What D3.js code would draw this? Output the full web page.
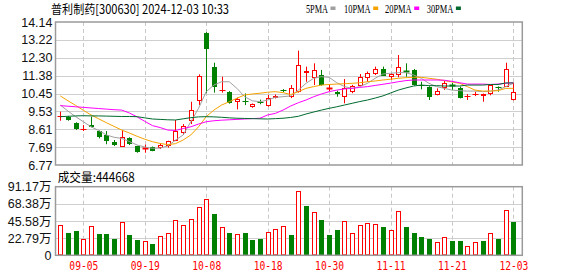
<!DOCTYPE html>
<html><head><meta charset="utf-8">
<script src="https://cdn.jsdelivr.net/npm/d3@7"></script>
<style>body{margin:0;background:#fff;}svg{display:block}</style>
</head><body><svg id="c" width="578" height="276"></svg>
<script>
const dates = ["2024-09-02","2024-09-03","2024-09-04","2024-09-05","2024-09-06","2024-09-09","2024-09-10","2024-09-11","2024-09-12","2024-09-13","2024-09-18","2024-09-19","2024-09-20","2024-09-23","2024-09-24","2024-09-25","2024-09-26","2024-09-27","2024-09-30","2024-10-08","2024-10-09","2024-10-10","2024-10-11","2024-10-14","2024-10-15","2024-10-16","2024-10-17","2024-10-18","2024-10-21","2024-10-22","2024-10-23","2024-10-24","2024-10-25","2024-10-28","2024-10-29","2024-10-30","2024-10-31","2024-11-01","2024-11-04","2024-11-05","2024-11-06","2024-11-07","2024-11-08","2024-11-11","2024-11-12","2024-11-13","2024-11-14","2024-11-15","2024-11-18","2024-11-19","2024-11-20","2024-11-21","2024-11-22","2024-11-25","2024-11-26","2024-11-27","2024-11-28","2024-11-29","2024-12-02","2024-12-03"];
const open = [9.30,9.26,8.95,8.60,8.83,8.52,8.32,7.94,7.71,8.14, 7.75,7.62,7.68,7.63,7.75,8.02,8.40,9.05,10.08,13.58, 11.84,10.62,10.55,10.00,10.08,9.77,10.04,9.81,10.24,10.64, 10.26,10.52,11.50,11.24,11.41,10.71,10.55,10.29,10.55,10.86, 11.24,11.44,11.72,11.29,11.41,11.60,11.67,10.90,10.77,10.36, 10.72,10.87,10.72,10.32,10.42,10.33,10.41,10.81,10.81,10.10];
const close = [9.31,9.09,8.61,8.62,8.75,8.23,8.02,7.82,8.23,7.84, 7.46,7.64,7.51,7.82,8.00,8.54,8.78,9.60,11.36,12.73, 10.81,10.64,9.98,10.17,10.06,9.90,10.02,10.21,10.34,10.62, 10.72,11.92,11.63,11.67,10.89,10.73,10.43,10.72,10.86,11.29, 11.50,11.72,11.37,11.44,11.80,11.57,10.89,10.88,10.29,10.58, 11.01,10.85,10.24,10.34,10.44,10.43,10.87,10.80,11.70,10.53];
const high = [9.52,9.30,8.97,8.83,9.26,8.55,8.52,8.06,8.57,8.20, 7.76,7.82,7.72,7.90,8.02,9.09,8.88,10.03,11.44,13.62, 12.04,11.32,10.58,10.24,10.46,9.94,10.14,10.38,10.40,10.68, 10.89,12.66,11.84,12.01,11.67,10.94,10.60,11.20,10.90,11.46, 11.59,11.84,11.84,11.50,12.44,12.01,11.72,11.06,10.83,10.72, 11.10,11.01,10.81,10.43,10.55,10.45,10.90,10.82,12.04,11.01];
const low = [9.05,9.05,8.58,8.52,8.71,8.14,7.84,7.75,7.71,7.80, 7.40,7.40,7.48,7.60,7.66,8.00,8.32,8.88,9.86,10.47, 10.50,10.50,9.93,9.64,9.86,9.72,9.90,9.78,10.20,10.52, 10.22,10.50,11.06,10.89,10.86,10.58,10.29,9.95,10.47,10.86, 11.06,11.41,11.37,11.15,11.29,11.32,10.86,10.67,10.12,10.36, 10.64,10.63,10.20,10.12,10.32,10.03,10.36,10.55,10.81,10.10];
const ma5 = [9.86,9.55,9.26,9.00,8.74,8.55,8.32,8.20,8.14,7.98, 7.80,7.70,7.63,7.64,7.75,8.05,8.32,9.00,9.69,10.55, 10.89,11.06,11.06,10.72,10.29,10.08,10.03,10.12,10.26,10.29, 10.33,10.63,10.98,11.24,11.32,11.29,11.01,10.81,10.72,10.81, 10.98,11.24,11.46,11.50,11.53,11.53,11.41,11.24,10.98,10.81, 10.72,10.63,10.60,10.58,10.58,10.55,10.58,10.63,10.81,10.98];
const ma10 = [10.33,10.08,9.84,9.59,9.35,9.15,8.95,8.76,8.57,8.42, 8.25,8.10,7.97,7.88,7.82,7.87,8.06,8.32,8.74,9.26, 9.60,9.86,10.03,10.21,10.38,10.43,10.47,10.52,10.55,10.50, 10.40,10.55,10.72,10.81,10.89,10.92,10.94,10.96,10.98,11.01, 11.06,11.10,11.15,11.19,11.24,11.27,11.29,11.29,11.24,11.19, 11.12,11.05,10.98,10.81,10.63,10.58,10.58,10.60,10.72,10.72];
const ma20 = [9.83,9.80,9.77,9.74,9.71,9.68,9.65,9.62,9.60,9.45, 9.25,9.02,8.80,8.70,8.57,8.55,8.65,8.74,8.88,9.00, 9.05,9.08,9.10,9.12,9.14,9.16,9.18,9.35,9.43,9.60, 9.81,9.98,10.12,10.29,10.43,10.55,10.63,10.69,10.72,10.77, 10.81,10.87,10.93,10.99,11.06,11.12,11.15,11.15,11.15,11.15, 11.14,11.08,11.01,10.94,10.94,10.94,10.92,10.94,10.98,11.01];
const ma30 = [9.26,9.28,9.30,9.31,9.30,9.30,9.29,9.28,9.27,9.27, 9.26,9.20,9.14,9.12,9.10,9.09,9.15,9.21,9.25,9.26, 9.25,9.23,9.20,9.18,9.17,9.16,9.15,9.14,9.16,9.18, 9.22,9.28,9.40,9.50,9.60,9.69,9.77,9.86,9.95,10.04, 10.12,10.22,10.33,10.48,10.63,10.74,10.84,10.89,10.86,10.86, 10.84,10.84,10.84,10.89,10.89,10.89,10.92,10.92,11.00,11.00];
const volume = [39.9,29.6,32.3,21.3,38.5,28.3,28.3,21.7,43.9,27.0, 20.3,19.0,15.0,25.2,29.6,46.5,39.9,47.8,63.8,74.4, 54.9,37.2,29.6,27.9,29.6,20.3,21.7,31.0,34.5,38.5, 27.0,85.0,65.5,57.1,46.9,27.0,33.6,45.2,29.2,39.9, 42.5,41.2,37.6,33.6,58.9,37.6,30.1,24.3,21.7,17.7, 23.9,19.0,19.0,12.4,17.7,19.0,29.6,21.7,60.2,44.47];
const volUp = [1,0,0,1,1,0,0,0,1,0, 0,1,0,1,1,1,1,1,1,1, 0,1,0,1,0,0,0,1,1,1, 0,1,0,1,0,0,0,1,1,1, 1,1,0,1,1,0,0,0,0,1, 1,0,0,1,1,0,1,0,1,0];
const priceTicks = ["6.77","7.69","8.61","9.53","10.45","11.38","12.30","13.22","14.14"];
const volTicks = ["0","22.79万","45.58万","68.38万","91.17万"];
const volTickValues = [0,22.79,45.58,68.38,91.17];
const dateTicks = ["2024-09-05","2024-09-19","2024-10-08","2024-10-18","2024-10-30","2024-11-11","2024-11-21","2024-12-03"];
const title = "普利制药[300630] 2024-12-03 10:33";
const volTitle = "成交量:444668";
const maNames = ["5PMA","10PMA","20PMA","30PMA"];

const RED = "#ff0000", GREEN = "#008000";
const maColors = ["#a0a0a0","#f5a300","#ff00ff","#006a2e"];
const svg = d3.select("#c");
const L = 55.5, R = 522.3, T = 22, B = 165, VT = 186.7, VB = 255.3;

const x = d3.scalePoint().domain(dates).range([60.3, 513.4]);
const y = d3.scaleLinear().domain([6.77, 14.14]).range([B, T]);
const yv = d3.scaleLinear().domain([0, 91.17]).range([VB, VT]);
const px = d => Math.round(x(d));

// header
svg.append("text").attr("x", 51).attr("y", 13.5).attr("font-family", "Noto Sans CJK SC").attr("font-size", 12.5)
  .attr("fill", "#000").attr("textLength", 178).attr("lengthAdjust", "spacingAndGlyphs").text(title);
const legX = [306, 344, 385, 426.7], legW = [22, 26.7, 26.7, 26.7];
maNames.forEach((n, i) => {
  svg.append("text").attr("x", legX[i]).attr("y", 13).attr("font-family", "Liberation Serif").attr("font-size", 12)
    .attr("fill", "#000").attr("textLength", legW[i]).attr("lengthAdjust", "spacingAndGlyphs").text(n);
  svg.append("rect").attr("x", legX[i] + legW[i] + 2.5).attr("y", 6.5).attr("width", 5).attr("height", 3.5).attr("fill", maColors[i]);
});

// grids
const priceVals = priceTicks.map(Number);
svg.append("g").selectAll("line").data(priceVals.slice(1, -1)).join("line")
  .attr("x1", L).attr("x2", R).attr("y1", d => Math.round(y(d)) + 0.5).attr("y2", d => Math.round(y(d)) + 0.5)
  .attr("stroke", "#cfcfcf");
svg.append("g").selectAll("line").data(volTickValues.slice(1, -1)).join("line")
  .attr("x1", L).attr("x2", R).attr("y1", d => Math.round(yv(d)) + 0.5).attr("y2", d => Math.round(yv(d)) + 0.5)
  .attr("stroke", "#cfcfcf");
[[T, B], [VT, VB]].forEach(([a, b]) => {
  svg.append("g").selectAll("line").data(dateTicks).join("line")
    .attr("x1", d => px(d) + 0.5).attr("x2", d => px(d) + 0.5).attr("y1", a).attr("y2", b)
    .attr("stroke", "#c8c8c8").attr("stroke-dasharray", "4,3");
});

// candles
const idx = d3.range(dates.length);
const cg = svg.append("g");
idx.forEach(i => {
  const cx = px(dates[i]);
  const up = close[i] >= open[i];
  const col = up ? RED : GREEN;
  cg.append("line").attr("x1", cx + 0.5).attr("x2", cx + 0.5).attr("y1", y(high[i])).attr("y2", y(low[i]))
    .attr("stroke", col);
  const yt = Math.round(y(Math.max(open[i], close[i]))), yb = Math.round(y(Math.min(open[i], close[i])));
  if (yb - yt < 2) {
    cg.append("line").attr("x1", cx - 2.5).attr("x2", cx + 3.5).attr("y1", yt + 0.5).attr("y2", yt + 0.5)
      .attr("stroke", col).attr("stroke-width", yb - yt < 1 ? 1 : 2);
  } else {
    cg.append("rect").attr("x", cx - 1.5).attr("y", yt + 0.5).attr("width", 4).attr("height", yb - yt - 1)
      .attr("fill", up ? "#fff" : GREEN).attr("stroke", col);
  }
});

// moving averages
[ma5, ma10, ma20, ma30].forEach((arr, k) => {
  svg.append("path").datum(arr).attr("fill", "none").attr("stroke", maColors[k]).attr("stroke-width", 1)
    .attr("d", d3.line().x((d, i) => x(dates[i])).y(d => y(d)));
});

// volume bars
const vg = svg.append("g");
idx.forEach(i => {
  const cx = px(dates[i]);
  const top = Math.round(yv(volume[i]));
  if (volUp[i]) {
    vg.append("rect").attr("x", cx - 1.5).attr("y", top + 0.5).attr("width", 4).attr("height", VB - top - 1)
      .attr("fill", "#fff").attr("stroke", RED);
  } else {
    vg.append("rect").attr("x", cx - 2).attr("y", top).attr("width", 5).attr("height", VB - top).attr("fill", GREEN);
  }
});

// borders
[[T, B], [VT, VB]].forEach(([a, b]) => {
  svg.append("rect").attr("x", L).attr("y", a).attr("width", R - L).attr("height", b - a)
    .attr("fill", "none").attr("stroke", "#9a9a9a").attr("stroke-width", 1.5);
});

// axes
const ya = svg.append("g").attr("transform", `translate(${L},0)`)
  .call(d3.axisLeft(y).tickValues(priceVals).tickFormat((d, i) => priceTicks[i]).tickSize(0).tickPadding(3));
const va = svg.append("g").attr("transform", `translate(${L},0)`)
  .call(d3.axisLeft(yv).tickValues(volTickValues).tickFormat((d, i) => volTicks[i]).tickSize(0).tickPadding(4));
[ya, va].forEach(g => {
  g.select(".domain").remove();
  g.selectAll("text").attr("font-family", "Liberation Sans, Noto Sans CJK SC").attr("font-size", 12.5).attr("fill", "#111");
});
const xa = svg.append("g").attr("transform", `translate(0,${VB})`)
  .call(d3.axisBottom(x).tickValues(dateTicks).tickFormat(d => d.slice(5)).tickSize(0).tickPadding(6));
xa.select(".domain").remove();
xa.selectAll("text").attr("font-family", "DejaVu Sans Mono").attr("font-size", 12).attr("fill", RED)
  .attr("textLength", 29).attr("lengthAdjust", "spacingAndGlyphs");

svg.append("text").attr("x", 57.7).attr("y", 182).attr("font-family", "Noto Sans CJK SC").attr("font-size", 12.5)
  .attr("fill", "#000").attr("textLength", 77).attr("lengthAdjust", "spacingAndGlyphs").text(volTitle);
</script></body></html>
